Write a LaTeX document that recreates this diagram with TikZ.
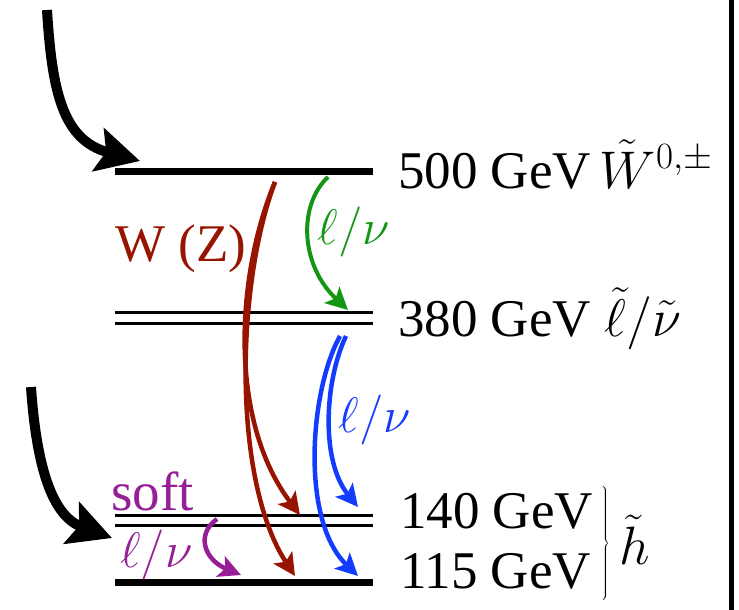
\RequirePackage{fix-cm}
\documentclass[tikz,border=0pt]{standalone}
\usepackage[no-math]{fontspec}
\setmainfont{Liberation Serif}
\usetikzlibrary{arrows.meta}
\definecolor{wred}{RGB}{150,20,0}
\definecolor{lgreen}{RGB}{20,150,20}
\definecolor{lblue}{RGB}{20,60,255}
\definecolor{spurple}{RGB}{150,30,150}
\tikzset{
  level/.style={line width=7pt},
  dlevel/.style={line width=3pt},
  bigarrow/.style={line width=10pt,-{Stealth[length=43pt,width=44pt,inset=8pt]}},
  decay/.style={line width=4.5pt,-{Stealth[length=22pt,width=22pt,inset=5pt]}},
  rlab/.style={anchor=base west,inner sep=0pt,font=\fontsize{53}{60}\selectfont},
  declab/.style={inner sep=0pt,font=\fontsize{50}{56}\selectfont},
}
\begin{document}
\begin{tikzpicture}[x=1pt,y=-1pt]
\path[use as bounding box] (0,0) rectangle (739,610);
% right frame line
\coordinate (fr1) at (731,0);
\coordinate (fr2) at (731,610);
\draw[line width=5pt] (fr1) -- (fr2);
% levels
\coordinate (a1) at (115,171); \coordinate (a2) at (373,171);
\coordinate (b1) at (115,312.5); \coordinate (b2) at (373,312.5);
\coordinate (b3) at (115,323); \coordinate (b4) at (373,323);
\coordinate (c1) at (115,515); \coordinate (c2) at (373,515);
\coordinate (c3) at (115,525.5); \coordinate (c4) at (373,525.5);
\coordinate (d1) at (115,582); \coordinate (d2) at (373,582);
\draw[level] (a1) -- (a2);
\draw[dlevel] (b1) -- (b2);
\draw[dlevel] (b3) -- (b4);
\draw[dlevel] (c1) -- (c2);
\draw[dlevel] (c3) -- (c4);
\draw[level] (d1) -- (d2);
% incoming black arrows
\coordinate (in1) at (47,10); \coordinate (in1t) at (140,161);
\coordinate (in2) at (31,387); \coordinate (in2t) at (112,538);
\draw[bigarrow] (in1) .. controls (52,90) and (62,140) .. (in1t);
\draw[bigarrow] (in2) .. controls (36,460) and (50,515) .. (in2t);
% red W (Z) arrows
\coordinate (r0) at (275,182);
\coordinate (r1) at (300,515);
\coordinate (r2) at (295,576);
\draw[decay,wred] (r0) .. controls (236,275) and (228,420) .. (r1);
\draw[decay,wred] (r0) .. controls (236,285) and (232,480) .. (r2);
% green
\coordinate (g0) at (328,177);
\coordinate (g1) at (348,310);
\draw[decay,lgreen,line width=4pt] (g0) .. controls (298,205) and (300,265) .. (g1);
% blue
\coordinate (bl0) at (340,336);
\coordinate (bl1) at (346,336);
\coordinate (bl2) at (358,576);
\coordinate (bl3) at (358,507);
\draw[decay,lblue] (bl0) .. controls (310,390) and (300,520) .. (bl2);
\draw[decay,lblue] (bl1) .. controls (325,380) and (320,460) .. (bl3);
% purple
\coordinate (p0) at (217,519);
\coordinate (p1) at (241,575);
\draw[decay,spurple] (p0) .. controls (195,535) and (205,560) .. (p1);
% labels
\node[rlab] (t500) at (398,188) {500 GeV\,$\tilde W^{0,\pm}$};
\node[rlab] (t380) at (398,336) {380 GeV $\tilde\ell/\tilde\nu$};
\node[rlab] (t140) at (400,528) {140 GeV};
\node[rlab] (t115) at (400,588) {115 GeV};
\node[inner sep=0pt,font=\fontsize{50}{56}\selectfont] (br) at (605,544) {$\left.\vrule height 46pt depth 46pt width 0pt\right\}$};
\node[inner sep=0pt,font=\fontsize{54}{60}\selectfont] (hh) at (635,540) {$\tilde h$};
\node[anchor=base west,inner sep=0pt,text=wred,font=\fontsize{53}{60}\selectfont] (wz) at (115,261) {W (Z)};
\node[anchor=base west,inner sep=0pt,text=spurple,font=\fontsize{55}{60}\selectfont] (soft) at (111,510) {soft};
\node[declab,anchor=base west,text=spurple] (lp) at (120,567) {$\ell/\nu$};
\node[declab,text=lgreen] (lg) at (354,232) {$\ell/\nu$};
\node[declab,text=lblue] (lb) at (375,420) {$\ell/\nu$};
\end{tikzpicture}
\end{document}
